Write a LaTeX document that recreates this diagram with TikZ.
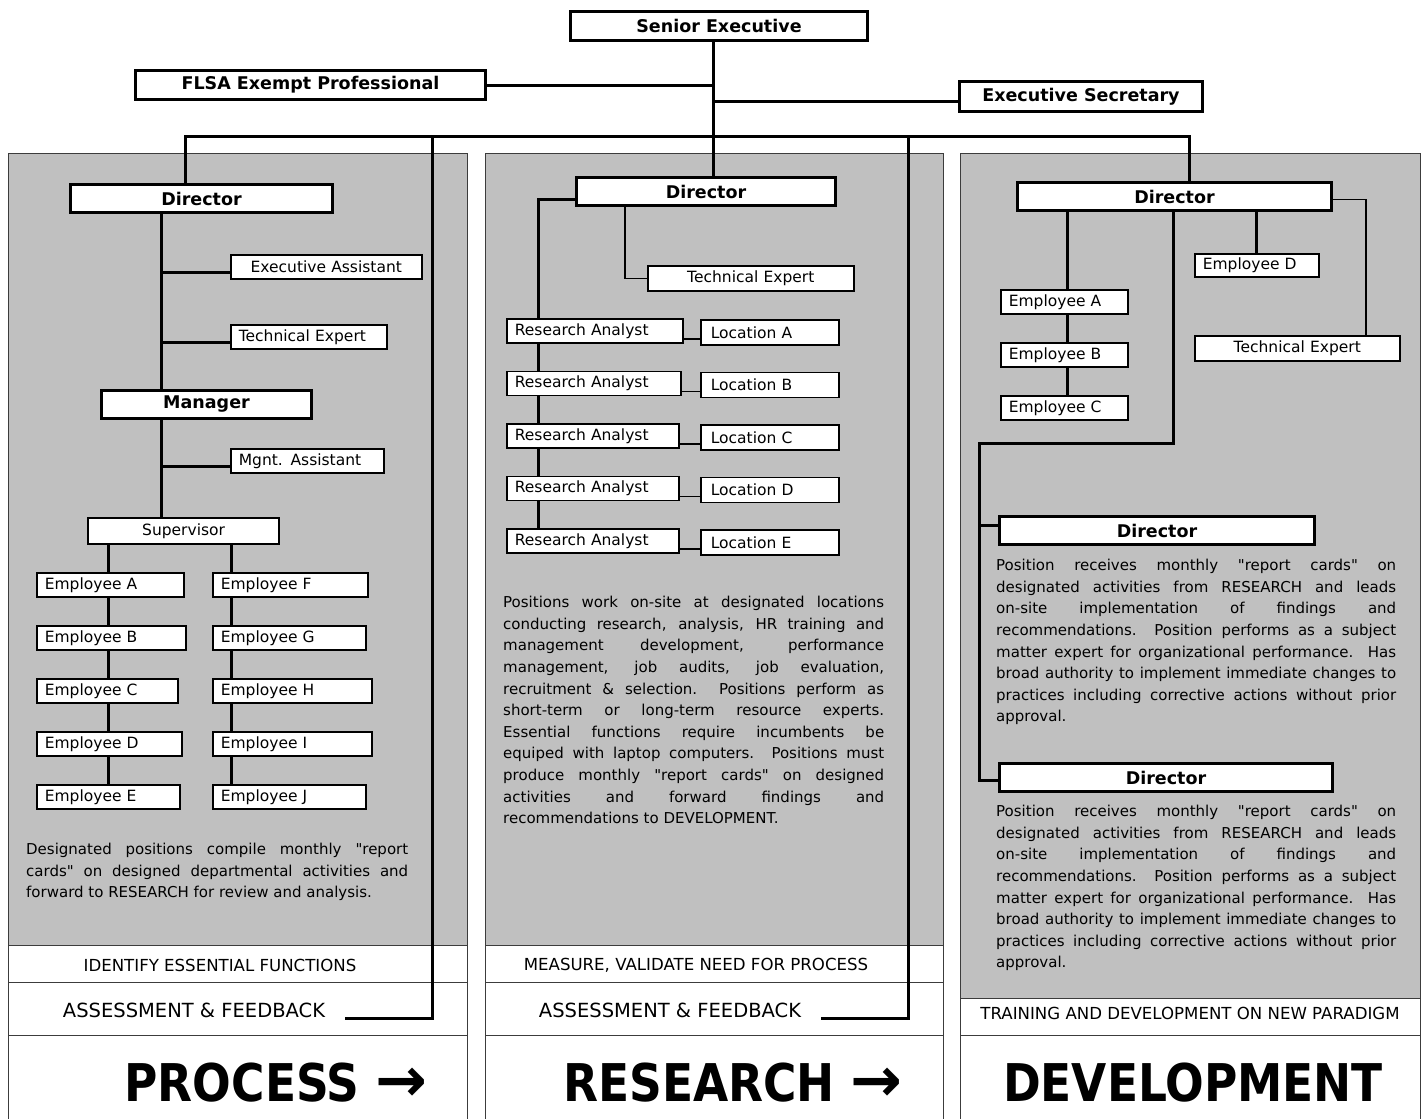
\documentclass[tikz,border=0pt]{standalone}
\usepackage{fontspec}
\usepackage{graphicx}
\setmainfont{DejaVu Sans}
\newfontfamily\bigfont[FakeStretch=0.875]{DejaVu Sans}
\usetikzlibrary{calc}
\definecolor{panelgray}{RGB}{192,192,192}
\definecolor{rulegray}{RGB}{60,60,60}
\newcommand{\qq}{\textquotedbl}
\newcommand{\stagearrow}{{\rmfamily\bfseries\fontsize{62}{62}\selectfont →}}
\tikzset{
  headbox/.style={draw, line width=3pt, fill=white, inner sep=0pt, anchor=north west,
    minimum height=28pt, font=\fontsize{17.5}{20}\selectfont\bfseries},
  unitbox/.style={draw, line width=1.6pt, fill=white, inner xsep=8pt, inner ysep=0pt,
    anchor=north west, align=left, minimum height=24pt, font=\fontsize{15.5}{18}\selectfont},
  trunk/.style={line width=3pt},
  twig/.style={line width=1.6pt},
  blurb/.style={anchor=north west, align=justify, inner sep=0pt,
    font=\fontsize{15}{21.6}\selectfont},
  strip/.style={font=\fontsize{16.6}{18}\selectfont},
  feedback/.style={font=\fontsize{19.5}{21}\selectfont},
  stage/.style={anchor=base, inner sep=0pt, font=\bigfont\bfseries\fontsize{52}{56}\selectfont},
  panelrule/.style={rulegray, line width=1pt},
}
\begin{document}
\begin{tikzpicture}[x=1pt, y=-1pt]
\useasboundingbox (0,0) rectangle (1428,1119);

% panels
\fill[panelgray] (8,153) rectangle (467,945);
\fill[panelgray] (485,153) rectangle (943,945);
\fill[panelgray] (960,153) rectangle (1420,998);
\draw[panelrule] (8,1119) -- (8,153) -- (467,153) -- (467,1119);
\draw[panelrule] (485,1119) -- (485,153) -- (943,153) -- (943,1119);
\draw[panelrule] (960,1119) -- (960,153) -- (1420,153) -- (1420,1119);
\foreach \y in {945,982,1035} {
  \draw[panelrule] (8,\y) -- (467,\y);
  \draw[panelrule] (485,\y) -- (943,\y);
}
\foreach \y in {998,1035}
  \draw[panelrule] (960,\y) -- (1420,\y);

% guide coordinates
\coordinate (trunk) at (713,0);
\coordinate (busL) at (185,136);
\coordinate (busR) at (1189,136);
\coordinate (loopL) at (432,1018);
\coordinate (loopM) at (908,1018);
\coordinate (spineL) at (161,0);
\coordinate (colA) at (108,0);
\coordinate (colF) at (231,0);
\coordinate (spineM) at (538,0);
\coordinate (techMx) at (625,0);
\coordinate (spineR) at (1067,0);
\coordinate (elbowR) at (1173,443);
\coordinate (spineR2) at (979,443);
\coordinate (techRx) at (1366,0);

% top level
\node[headbox, minimum width=297pt, minimum height=29pt] (senior) at (569,10) {Senior Executive};
\node[headbox, minimum width=350pt, minimum height=29pt] (flsa) at (134,69) {FLSA Exempt Professional};
\node[headbox, minimum width=243pt, minimum height=30pt] (secr) at (958,80) {Executive Secretary};

% PROCESS panel
\node[headbox, minimum width=262pt] (dirL) at (69,183) {Director};
\node[unitbox, text width=175pt, align=center] (execA) at (230,254) {Executive Assistant};
\node[unitbox, text width=140pt] (techL) at (230,324) {Technical Expert};
\node[headbox, minimum width=210pt] (mgr) at (100,389) {Manager};
\node[unitbox, text width=137pt] (mgtA) at (230,448) {Mgnt. Assistant};
\node[unitbox, text width=175pt, align=center, line width=2.2pt, minimum height=26pt] (sup) at (87,517) {Supervisor};
\foreach \lbl/\w [count=\i from 0] in {A/131,B/133,C/125,D/129,E/127}
  \node[unitbox, text width=\w pt] (emp\lbl) at (36,{572+53*\i}) {Employee \lbl};
\foreach \lbl/\w [count=\i from 0] in {F/139,G/137,H/143,I/143,J/137}
  \node[unitbox, text width=\w pt] (emp\lbl) at (212,{572+53*\i}) {Employee \lbl};
\node[blurb, text width=382pt] (noteL) at (26,843) {Designated positions compile monthly \qq report\linebreak
  cards\qq{} on designed departmental activities and\linebreak
  forward to RESEARCH for review and analysis.};
\node[strip] (taskL) at (220,965) {IDENTIFY ESSENTIAL FUNCTIONS};
\node[feedback] (fbL) at (194,1010) {ASSESSMENT \& FEEDBACK};
\node[stage] (stageL) at (276,1101) {PROCESS \stagearrow};

% RESEARCH panel
\node[headbox, minimum width=259pt] (dirM) at (575,176) {Director};
\node[unitbox, text width=190pt, align=center, minimum height=25pt] (techM) at (647,265) {Technical Expert};
\foreach \lbl/\w [count=\i from 0] in {A/160,B/158,C/156,D/156,E/156} {
  \node[unitbox, text width=\w pt] (ra\lbl) at (506,{318+52.5*\i}) {Research Analyst};
  \node[unitbox, text width=118pt, inner xsep=10pt, minimum height=25pt] (loc\lbl) at (700,{319+52.5*\i}) {Location \lbl};
}
\node[blurb, text width=381pt] (noteM) at (503,596) {Positions work on-site at designated locations\linebreak
  conducting research, analysis, HR training and\linebreak
  management development, performance\linebreak
  management, job audits, job evaluation,\linebreak
  recruitment \& selection.\ \ Positions perform as\linebreak
  short-term or long-term resource experts.\linebreak
  Essential functions require incumbents be\linebreak
  equiped with laptop computers.\ \ Positions must\linebreak
  produce monthly \qq report cards\qq{} on designed\linebreak
  activities and forward findings and\linebreak
  recommendations to DEVELOPMENT.};
\node[strip] (taskM) at (696,965) {MEASURE, VALIDATE NEED FOR PROCESS};
\node[feedback] (fbM) at (670,1010) {ASSESSMENT \& FEEDBACK};
\node[stage] (stageM) at (733,1101) {RESEARCH \stagearrow};

% DEVELOPMENT panel
\node[headbox, minimum width=314pt] (dirR) at (1016,181) {Director};
\foreach \lbl [count=\i from 0] in {A,B,C}
  \node[unitbox, text width=111pt] (emp\lbl R) at (1000,{289+53*\i}) {Employee \lbl};
\node[unitbox, text width=108pt, minimum height=23pt] (empDR) at (1194,253) {Employee D};
\node[unitbox, text width=189pt, align=center, minimum height=25pt] (techR) at (1194,335) {Technical Expert};
\node[headbox, minimum width=315pt] (dirS) at (998,515) {Director};
\node[blurb, text width=400pt] (noteS) at (996,559) {Position receives monthly \qq report cards\qq{} on\linebreak
  designated activities from RESEARCH and leads\linebreak
  on-site implementation of findings and\linebreak
  recommendations.\ \ Position performs as a subject\linebreak
  matter expert for organizational performance.\ \ Has\linebreak
  broad authority to implement immediate changes to\linebreak
  practices including corrective actions without prior\linebreak
  approval.};
\node[headbox, minimum width=333pt] (dirT) at (998,762) {Director};
\node[blurb, text width=400pt] (noteT) at (996,805) {Position receives monthly \qq report cards\qq{} on\linebreak
  designated activities from RESEARCH and leads\linebreak
  on-site implementation of findings and\linebreak
  recommendations.\ \ Position performs as a subject\linebreak
  matter expert for organizational performance.\ \ Has\linebreak
  broad authority to implement immediate changes to\linebreak
  practices including corrective actions without prior\linebreak
  approval.};
\node[strip] (taskR) at (1190,1013) {TRAINING AND DEVELOPMENT ON NEW PARADIGM};
\node[stage] (stageR) at (1193,1101) {DEVELOPMENT};

% connectors: top
\draw[trunk] (senior.south -| trunk) -- (dirM.north -| trunk);
\draw[trunk] (flsa.east) -- (flsa.east -| trunk);
\draw[trunk] ([yshift=-5pt]secr.west -| trunk) -- ([yshift=-5pt]secr.west);
\draw[trunk] (dirL.north -| busL) -- (busL) -- (busR) -- (dirR.north -| busR);
\draw[trunk] (loopL |- busL) -- (loopL) -- ([xshift=16pt]fbL.east |- loopL);
\draw[trunk] (loopM |- busL) -- (loopM) -- ([xshift=16pt]fbM.east |- loopM);

% connectors: PROCESS
\draw[trunk] (dirL.south -| spineL) -- (mgr.north -| spineL);
\draw[trunk] (mgr.south -| spineL) -- (sup.north -| spineL);
\foreach \n in {execA,techL,mgtA}
  \draw[trunk] ([yshift=-6pt]\n.west -| spineL) -- ([yshift=-6pt]\n.west);
\draw[trunk] (sup.south -| colA) -- (empA.north -| colA);
\draw[trunk] (sup.south -| colF) -- (empF.north -| colF);
\foreach \a/\b in {A/B,B/C,C/D,D/E}
  \draw[trunk] (emp\a.south -| colA) -- (emp\b.north -| colA);
\foreach \a/\b in {F/G,G/H,H/I,I/J}
  \draw[trunk] (emp\a.south -| colF) -- (emp\b.north -| colF);

% connectors: RESEARCH
\draw[trunk] ([yshift=-8pt]dirM.west) -| (raA.north -| spineM);
\foreach \a/\b in {A/B,B/C,C/D,D/E}
  \draw[trunk] (ra\a.south -| spineM) -- (ra\b.north -| spineM);
\draw[twig] (dirM.south -| techMx) |- (techM.west);
\foreach \lbl in {A,B,C,D,E}
  \draw[twig] ([yshift=-8pt]ra\lbl.east) -- ([yshift=-8pt]ra\lbl.east -| loc\lbl.west);

% connectors: DEVELOPMENT
\draw[trunk] (dirR.south -| spineR) -- (empAR.north -| spineR);
\draw[trunk] (empAR.south -| spineR) -- (empBR.north -| spineR);
\draw[trunk] (empBR.south -| spineR) -- (empCR.north -| spineR);
\draw[trunk] (dirR.south -| empDR.north) -- (empDR.north);
\draw[twig] ([yshift=-3pt]dirR.east) -| (techR.north -| techRx);
\draw[trunk] (dirR.south -| elbowR) -- (elbowR) -- (spineR2) |- ([yshift=-3pt]dirT.west);
\draw[trunk] ([yshift=5pt]spineR2 |- dirS.west) -- ([yshift=5pt]dirS.west);
\end{tikzpicture}
\end{document}
